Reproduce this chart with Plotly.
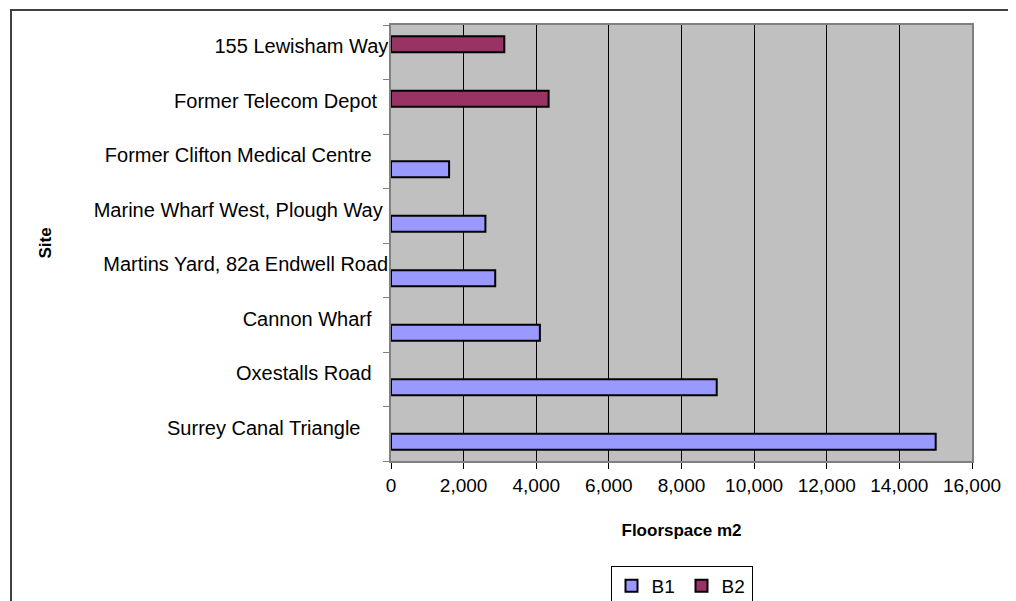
import plotly.graph_objects as go

# Sites listed bottom-to-top as they appear on the chart
sites = [
    "Surrey Canal Triangle",
    "Oxestalls Road",
    "Cannon Wharf",
    "Martins Yard, 82a Endwell Road",
    "Marine Wharf West, Plough Way",
    "Former Clifton Medical Centre",
    "Former Telecom Depot",
    "155 Lewisham Way",
]
# trailing padding used by the original labels
label_pad = [5, 3, 3, 0, 1, 3, 2, 0]
b1_values = [15000, 8970, 4100, 2870, 2600, 1600, None, None]
b2_values = [None, None, None, None, None, None, 4340, 3120]
x_ticks = list(range(0, 16001, 2000))
x_tick_labels = [f"{v:,}" for v in x_ticks]

FONT = "Liberation Sans, Arial, sans-serif"
W, H = 1016, 601
OFF = 8  # page body margin
PW, PH = 581, 436
L, T = 391 - OFF, 25 - OFF
R, B = W - L - PW, H - T - PH

fig = go.Figure()
fig.add_trace(go.Bar(
    name="B1", y=sites, x=b1_values, orientation="h",
    marker=dict(color="#9999FF", line=dict(color="#000000", width=2)),
))
fig.add_trace(go.Bar(
    name="B2", y=sites, x=b2_values, orientation="h",
    marker=dict(color="#993366", line=dict(color="#000000", width=2)),
))

ticktext = [s + "\u00a0" * p for s, p in zip(sites, label_pad)]

fig.update_layout(
    width=W, height=H,
    margin=dict(l=L, r=R, t=T, b=B, autoexpand=False),
    paper_bgcolor="white",
    plot_bgcolor="#C0C0C0",
    barmode="group",
    bargap=0.41,
    bargroupgap=0,
    font=dict(family=FONT, size=20, color="#000000"),
    showlegend=True,
    legend=dict(
        orientation="h",
        x=0.5, xanchor="center",
        y=-(566 - 461) / PH, yanchor="top",
        bordercolor="#000000", borderwidth=1,
        bgcolor="white",
        font=dict(family=FONT, size=19),
        entrywidth=25,
        traceorder="normal",
    ),
    xaxis=dict(
        range=[0, 16000],
        automargin=False,
        tickvals=x_ticks, ticktext=x_tick_labels,
        showgrid=True, gridcolor="#000000", gridwidth=1,
        ticks="outside", ticklen=6, tickcolor="#000000",
        showline=True, linecolor="#808080", linewidth=1.5, mirror=True,
        zeroline=False,
        tickfont=dict(family=FONT, size=19),
        title=dict(text="<b>Floorspace m2</b>", font=dict(family=FONT, size=17), standoff=30),
    ),
    yaxis=dict(
        type="category",
        automargin=False,
        categoryorder="array", categoryarray=sites,
        tickvals=sites, ticktext=ticktext,
        tickson="boundaries",
        ticks="outside", ticklen=6, tickcolor="#808080",
        showgrid=False,
        showline=True, linecolor="#808080", linewidth=1.5, mirror=True,
        tickfont=dict(family=FONT, size=20),
        ticklabelstandoff=-3,
        ticklabelshift=-6,
        title=dict(text="<b>Site</b>", font=dict(family=FONT, size=17), standoff=38),
    ),
    shapes=[dict(
        type="rect", xref="paper", yref="paper",
        x0=(11 - 391) / PW, x1=1.2,
        y0=-0.6, y1=(461 - 10) / PH,
        line=dict(color="#404040", width=2),
        fillcolor="rgba(0,0,0,0)", layer="below",
    )],
)

fig.write_html("out.html")
